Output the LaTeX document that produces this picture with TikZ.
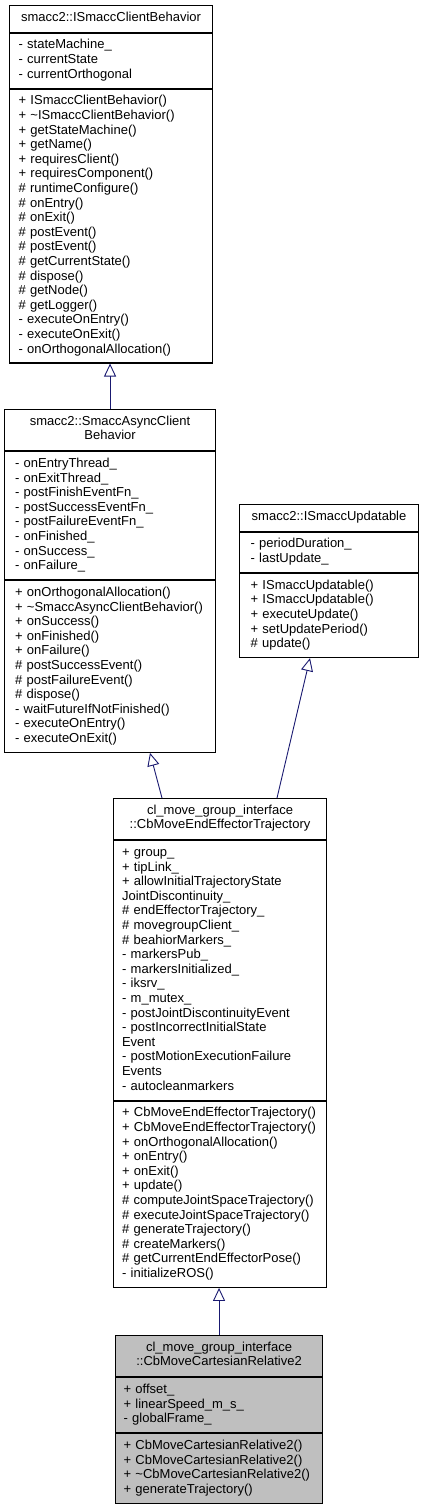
\documentclass[tikz,border=0pt]{standalone}
\usepackage{fontspec}
\setmainfont{Liberation Sans}
\usetikzlibrary{arrows.meta}
\definecolor{edgeblue}{RGB}{25,25,112}
\tikzset{
	classpart/.style={draw=black, line width=1.1pt, fill=white, anchor=north west, inner sep=0pt, align=left, font={\fontsize{13pt}{14.6pt}\selectfont}, execute at begin node=\strut, execute at end node=\strut},
	classtitle/.style={classpart, align=center},
	lines/.style={minimum height={#1*14.6pt+11pt}},
	tlines/.style={minimum height={#1*14.6pt+12pt}},
	boxw/.style 2 args={minimum width=#1, text width=#2},
	inherit/.style={draw=edgeblue, line width=0.9pt, -{Triangle[open, length=13pt, width=12pt]}},
}

\begin{document}
\begin{tikzpicture}[x=1pt, y=-1pt]
		%%%%% START %%%%%
		\useasboundingbox (0, 0) rectangle (423, 1505);
		
		% smacc2::ISmaccClientBehavior
		\node[classtitle, tlines=1, minimum width=203pt] (isb) at (9, 5) {smacc2::ISmaccClientBehavior};
		\node[classpart, lines=3, boxw={203pt}{185pt}] (isb-a) at (isb.south west) {- stateMachine\_\\- currentState\\- currentOrthogonal};
		\node[classpart, lines=18, boxw={203pt}{185pt}] (isb-m) at (isb-a.south west) {+ ISmaccClientBehavior()\\+ \textasciitilde ISmaccClientBehavior()\\+ getStateMachine()\\+ getName()\\+ requiresClient()\\+ requiresComponent()\\\# runtimeConfigure()\\\# onEntry()\\\# onExit()\\\# postEvent()\\\# postEvent()\\\# getCurrentState()\\\# dispose()\\\# getNode()\\\# getLogger()\\- executeOnEntry()\\- executeOnExit()\\- onOrthogonalAllocation()};
		
		% smacc2::SmaccAsyncClientBehavior
		\node[classtitle, tlines=2, minimum width=211pt] (sacb) at (4, 409) {smacc2::SmaccAsyncClient\\Behavior};
		\node[classpart, lines=8, boxw={211pt}{190pt}] (sacb-a) at (sacb.south west) {- onEntryThread\_\\- onExitThread\_\\- postFinishEventFn\_\\- postSuccessEventFn\_\\- postFailureEventFn\_\\- onFinished\_\\- onSuccess\_\\- onFailure\_};
		\node[classpart, lines=11, boxw={211pt}{190pt}] (sacb-m) at (sacb-a.south west) {+ onOrthogonalAllocation()\\+ \textasciitilde SmaccAsyncClientBehavior()\\+ onSuccess()\\+ onFinished()\\+ onFailure()\\\# postSuccessEvent()\\\# postFailureEvent()\\\# dispose()\\- waitFutureIfNotFinished()\\- executeOnEntry()\\- executeOnExit()};
		
		% smacc2::ISmaccUpdatable
		\node[classtitle, tlines=1, minimum width=179pt] (isu) at (239, 504) {smacc2::ISmaccUpdatable};
		\node[classpart, lines=2, boxw={179pt}{157pt}] (isu-a) at (isu.south west) {- periodDuration\_\\- lastUpdate\_};
		\node[classpart, lines=5, boxw={179pt}{157pt}] (isu-m) at (isu-a.south west) {+ ISmaccUpdatable()\\+ ISmaccUpdatable()\\+ executeUpdate()\\+ setUpdatePeriod()\\\# update()};
		
		% cl_move_group_interface::CbMoveEndEffectorTrajectory
		\node[classtitle, tlines=2, minimum width=213pt] (cmeet) at (113, 798) {cl\_move\_group\_interface\\::CbMoveEndEffectorTrajectory};
		\node[classpart, lines=17, boxw={213pt}{196pt}] (cmeet-a) at (cmeet.south west) {+ group\_\\+ tipLink\_\\+ allowInitialTrajectoryState\\JointDiscontinuity\_\\\# endEffectorTrajectory\_\\\# movegroupClient\_\\\# beahiorMarkers\_\\- markersPub\_\\- markersInitialized\_\\- iksrv\_\\- m\_mutex\_\\- postJointDiscontinuityEvent\\- postIncorrectInitialState\\Event\\- postMotionExecutionFailure\\Events\\- autocleanmarkers};
		\node[classpart, lines=12, boxw={213pt}{196pt}] (cmeet-m) at (cmeet-a.south west) {+ CbMoveEndEffectorTrajectory()\\+ CbMoveEndEffectorTrajectory()\\+ onOrthogonalAllocation()\\+ onEntry()\\+ onExit()\\+ update()\\\# computeJointSpaceTrajectory()\\\# executeJointSpaceTrajectory()\\\# generateTrajectory()\\\# createMarkers()\\\# getCurrentEndEffectorPose()\\- initializeROS()};
		
		% cl_move_group_interface::CbMoveCartesianRelative2
		\node[classtitle, tlines=2, minimum width=207pt, fill=black!25] (cmcr) at (115, 1335) {cl\_move\_group\_interface\\::CbMoveCartesianRelative2};
		\node[classpart, lines=3, boxw={207pt}{191pt}, fill=black!25] (cmcr-a) at (cmcr.south west) {+ offset\_\\+ linearSpeed\_m\_s\_\\- globalFrame\_};
		\node[classpart, lines=4, boxw={207pt}{191pt}, fill=black!25] (cmcr-m) at (cmcr-a.south west) {+ CbMoveCartesianRelative2()\\+ CbMoveCartesianRelative2()\\+ \textasciitilde CbMoveCartesianRelative2()\\+ generateTrajectory()};
		
		% inheritance
		\draw[inherit] (sacb.north) -- (sacb.north |- isb-m.south);
		\draw[inherit] ([xshift=49pt]cmeet.north west) -- ([xshift=146pt]sacb-m.south west);
		\draw[inherit] ([xshift=164pt]cmeet.north west) -- ([xshift=71pt]isu-m.south west);
		\draw[inherit] (cmcr.north) -- (cmcr.north |- cmeet-m.south);
		
		%%%%% END %%%%%
	\end{tikzpicture}
\end{document}
